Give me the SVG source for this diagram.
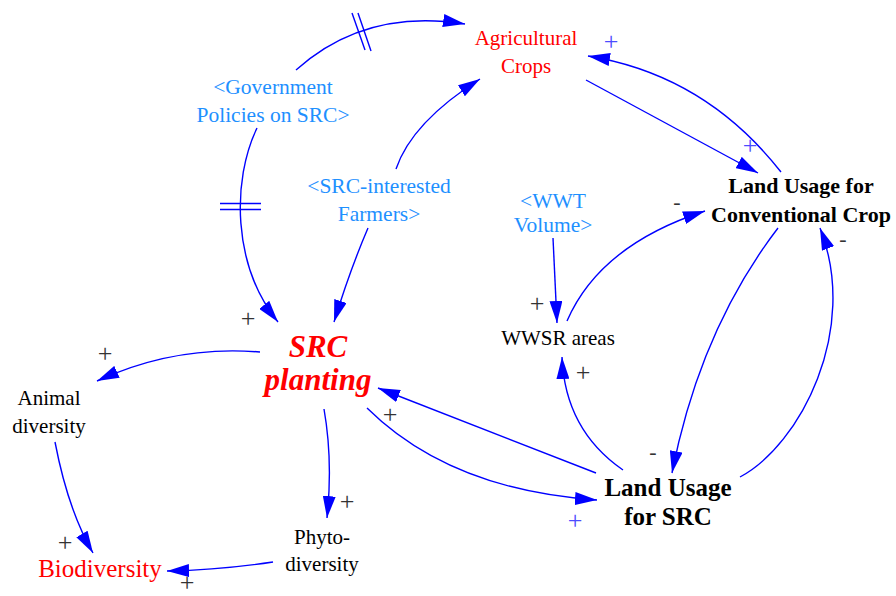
<svg xmlns="http://www.w3.org/2000/svg" width="896" height="596" viewBox="0 0 896 596" font-family="'Liberation Serif', 'DejaVu Serif', serif">
  <style>
    text { font-family: "Liberation Serif", "DejaVu Serif", "Noto Serif", serif; text-anchor: middle; }
    .var { font-size: 21px; fill: #000; }
    .red { font-size: 21px; fill: #ff0000; }
    .shadow { font-size: 21.5px; fill: #1e90ff; }
    .bold { font-weight: bold; fill: #000; }
    .pol { font-size: 26px; fill: #333; }
    .polb { font-size: 26px; fill: #4c4cff; }
    .neg { font-size: 22px; fill: #333; }
    .link { fill: none; stroke: #0000ff; stroke-width: 1.4; marker-end: url(#arrow); }
    .delay { stroke: #0000ff; stroke-width: 1.4; }
  </style>
  <defs>
    <marker id="arrow" markerUnits="userSpaceOnUse" viewBox="0 0 22 13" refX="22" refY="6.5" markerWidth="22" markerHeight="13" orient="auto">
      <path d="M0,0 L22,6.5 L0,13 z" fill="#0000ff"/>
    </marker>
  </defs>

  <rect width="896" height="596" fill="#fff"/>

  <!-- causal links -->
  <g id="connectors">
    <path class="link" d="M296,70 Q365,8 465,24"/>
    <path class="link" d="M257,128 C232,180 232,265 278,322"/>
    <path class="link" d="M396,169 Q412,122 480,79"/>
    <path class="link" d="M368,228 Q350,270 334,322"/>
    <path class="link" d="M586,80 L758,173"/>
    <path class="link" d="M781,172 Q705,75 588,56"/>
    <path class="link" d="M553,238 L557,323"/>
    <path class="link" d="M567,321 Q600,245 705,211"/>
    <path class="link" d="M778,228 Q700,330 672,473"/>
    <path class="link" d="M740,477 C800,445 860,330 820,228"/>
    <path class="link" d="M623,470 Q565,430 562,357"/>
    <path class="link" d="M367,408 Q450,490 597,500"/>
    <path class="link" d="M596,473 L378,388"/>
    <path class="link" d="M260,352 Q175,345 97,381"/>
    <path class="link" d="M324,409 Q333,460 327,518"/>
    <path class="link" d="M55,442 Q68,510 93,553"/>
    <path class="link" d="M273,562 Q220,570 167,571"/>
    <!-- delay marks -->
    <line class="delay" x1="352" y1="13" x2="365" y2="50"/>
    <line class="delay" x1="358" y1="13" x2="371" y2="51"/>
    <line class="delay" x1="220" y1="203.5" x2="261" y2="203.5"/>
    <line class="delay" x1="220" y1="209.5" x2="261" y2="209.5"/>
  </g>

  <!-- polarity signs -->
  <g id="polarities">
    <text class="polb" x="611" y="49.5">+</text>
    <text class="polb" x="750" y="153.5">+</text>
    <text class="neg" x="677" y="209">-</text>
    <text class="neg" x="843" y="246">-</text>
    <text class="pol" x="537" y="311.5">+</text>
    <text class="pol" x="583" y="380.5">+</text>
    <text class="neg" x="653" y="459">-</text>
    <text class="polb" x="575" y="528.5">+</text>
    <text class="pol" x="390" y="422.5">+</text>
    <text class="pol" x="248" y="326.5">+</text>
    <text class="pol" x="105" y="361.5">+</text>
    <text class="pol" x="347" y="509.5">+</text>
    <text class="pol" x="65" y="550.5">+</text>
    <text class="pol" x="187" y="591" font-size="22">+</text>
  </g>

  <g id="agricultural-crops">
    <text class="red" x="526" y="45">Agricultural</text>
    <text class="red" x="526" y="73">Crops</text>
  </g>
  <g id="government-policies">
    <text class="shadow" x="273" y="94">&lt;Government</text>
    <text class="shadow" x="273" y="122">Policies on SRC&gt;</text>
  </g>
  <g id="src-interested-farmers">
    <text class="shadow" x="379" y="193">&lt;SRC-interested</text>
    <text class="shadow" x="379" y="221">Farmers&gt;</text>
  </g>
  <g id="wwt-volume">
    <text class="shadow" x="553" y="208">&lt;WWT</text>
    <text class="shadow" x="553" y="232">Volume&gt;</text>
  </g>
  <g id="land-usage-conventional">
    <text class="bold" font-size="22" x="801" y="193">Land Usage for</text>
    <text class="bold" font-size="22" x="801" y="222">Conventional Crop</text>
  </g>
  <g id="wwsr-areas">
    <text class="var" x="558" y="345">WWSR areas</text>
  </g>
  <g id="src-planting">
    <text x="318" y="357" font-size="31" font-weight="bold" font-style="italic" fill="#ff0000">SRC</text>
    <text x="318" y="390" font-size="31" font-weight="bold" font-style="italic" fill="#ff0000">planting</text>
  </g>
  <g id="land-usage-src">
    <text class="bold" font-size="25" x="668" y="496">Land Usage</text>
    <text class="bold" font-size="25" x="668" y="525">for SRC</text>
  </g>
  <g id="animal-diversity">
    <text class="var" x="49" y="405">Animal</text>
    <text class="var" x="49" y="433">diversity</text>
  </g>
  <g id="phyto-diversity">
    <text class="var" x="322" y="544">Phyto-</text>
    <text class="var" x="322" y="571">diversity</text>
  </g>
  <g id="biodiversity">
    <text x="100" y="577" font-size="25" fill="#ff0000">Biodiversity</text>
  </g>
</svg>
